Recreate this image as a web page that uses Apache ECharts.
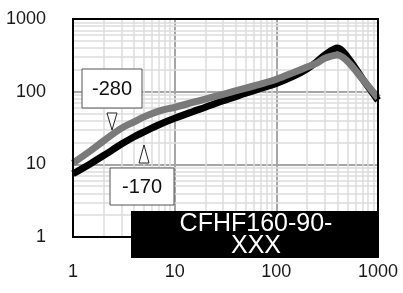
<!DOCTYPE html>
<html>
<head>
<meta charset="utf-8">
<script src="https://cdn.jsdelivr.net/npm/echarts@6/dist/echarts.min.js"></script>
<style>
  html, body { margin: 0; padding: 0; background: #fff; }
  #chart { width: 403px; height: 293px; }
</style>
</head>
<body>
<div id="chart"></div>
<script>
// frequency points (x, log axis)
const freq = [1, 1.5, 2, 3, 4, 5, 7, 10, 15, 20, 30, 50, 70, 100, 150, 200, 250, 300, 400, 500, 700, 1000];
// -280 curve (gray)
const curve280 = [10.4, 15.5, 21, 31.5, 38.5, 45, 54, 61, 71, 79, 92, 112, 127, 148, 185, 218, 247, 288, 320, 262, 150, 82];
// -170 curve (black)
const curve170 = [7.4, 10.3, 13.2, 19, 24, 28, 35, 43, 53, 61, 75, 95, 111, 130, 165, 205, 258, 320, 400, 300, 152, 76];
// minor grid values
const minorX = [2, 3, 4, 5, 6, 7, 8, 9, 20, 30, 40, 50, 60, 70, 80, 90, 200, 300, 400, 500, 600, 700, 800, 900];
const minorY = [2, 3, 4, 5, 6, 7, 8, 9, 20, 30, 40, 50, 60, 70, 80, 90, 200, 300, 400, 500, 600, 700, 800, 900];
const boxTitle = ["CFHF160-90-", "XXX"];

const chart = echarts.init(document.getElementById("chart"));

const pairs = (ys) => freq.map((x, i) => [x, ys[i]]);

const option = {
  animation: false,
  textStyle: { fontFamily: "Liberation Sans, Arial, sans-serif" },
  grid: {
    left: 73, right: 25, top: 19, bottom: 56,
    show: true,
    borderColor: "#000",
    borderWidth: 2,
    backgroundColor: "transparent",
    z: 6
  },
  xAxis: {
    type: "log",
    logBase: 10,
    min: 1,
    max: 1000,
    axisLine: { show: false },
    axisTick: { show: false },
    axisLabel: { color: "#1a1a1a", fontSize: 18, margin: 26, formatter: (v) => String(v) },
    splitLine: { show: true, lineStyle: { color: "#a6a6a6", width: 2 } }
  },
  yAxis: {
    type: "log",
    logBase: 10,
    min: 1,
    max: 1000,
    axisLine: { show: false },
    axisTick: { show: false },
    axisLabel: { color: "#1a1a1a", fontSize: 18, margin: 27, formatter: (v) => String(v) },
    splitLine: { show: true, lineStyle: { color: "#a6a6a6", width: 2 } }
  },
  series: [
    {
      name: "grid",
      type: "line",
      data: [],
      silent: true,
      z: 1,
      markLine: {
        silent: true,
        symbol: "none",
        label: { show: false },
        z: 1,
        lineStyle: { color: "#dcdcdc", width: 1.5, type: "solid" },
        data: minorX.map((v) => ({ xAxis: v })).concat(minorY.map((v) => ({ yAxis: v })))
      }
    },
    {
      name: "-170",
      type: "line",
      data: pairs(curve170),
      smooth: 0.35,
      showSymbol: false,
      z: 3,
      lineStyle: { color: "#000", width: 7 }
    },
    {
      name: "-280",
      type: "line",
      data: pairs(curve280),
      smooth: 0.35,
      showSymbol: false,
      z: 4,
      lineStyle: { color: "#7a7a7a", width: 7 }
    }
  ],
  graphic: [
    // -280 label
    { type: "rect", shape: { x: 82, y: 69, width: 60, height: 39 }, style: { fill: "#fff", stroke: "#555", lineWidth: 1 }, z: 10 },
    { type: "text", style: { x: 112, y: 89, text: "-280", fill: "#111", font: "20px Liberation Sans", textAlign: "center", textVerticalAlign: "middle" }, z: 11 },
    { type: "polygon", shape: { points: [[107, 113], [117, 113], [112, 130]] }, style: { fill: "#fff", stroke: "#222", lineWidth: 1 }, z: 10 },
    // -170 label
    { type: "rect", shape: { x: 110, y: 168, width: 64, height: 37 }, style: { fill: "#fff", stroke: "#555", lineWidth: 1 }, z: 10 },
    { type: "text", style: { x: 142, y: 187, text: "-170", fill: "#111", font: "20px Liberation Sans", textAlign: "center", textVerticalAlign: "middle" }, z: 11 },
    { type: "polygon", shape: { points: [[139, 163], [149, 163], [144, 145]] }, style: { fill: "#fff", stroke: "#222", lineWidth: 1 }, z: 10 },
    // part number box
    { type: "rect", shape: { x: 131, y: 211, width: 248, height: 47 }, style: { fill: "#000" }, z: 12 },
    { type: "text", style: { x: 256, y: 235, text: boxTitle.join("\n"), fill: "#fff", font: "25px Liberation Sans", lineHeight: 22, textAlign: "center", textVerticalAlign: "middle" }, z: 13 }
  ]
};

chart.setOption(option);
</script>
</body>
</html>
